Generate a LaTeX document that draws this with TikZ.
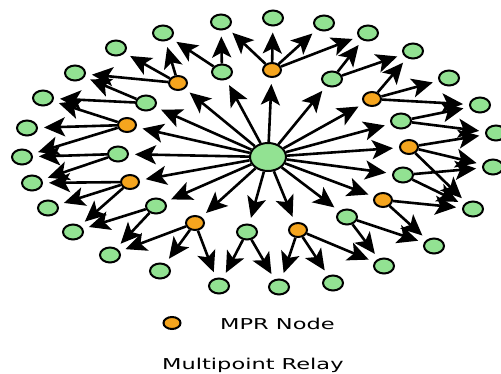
\documentclass[tikz,border=0pt]{standalone}
\usepackage{fontspec}
\newfontfamily\legendfont[FakeStretch=1.5]{DejaVu Sans}
\usetikzlibrary{shapes.geometric,arrows.meta,backgrounds}
\definecolor{ngreen}{RGB}{146,226,146}
\definecolor{norange}{RGB}{245,165,30}
\begin{document}
\begin{tikzpicture}[x=1pt,y=-1pt,
  gnode/.style={ellipse,draw=black,line width=2pt,fill=ngreen,minimum width=20pt,minimum height=15pt,inner sep=0pt},
  onode/.style={gnode,fill=norange,minimum width=18pt,minimum height=14pt},
  cnode/.style={gnode,minimum width=36pt,minimum height=28pt},
  link/.style={line width=2.6pt,-{Stealth[length=21pt,width=19pt,inset=5pt]},shorten >=6pt},
  lbl/.style={font=\legendfont\fontsize{15}{18}\selectfont,inner sep=0pt}
]
\useasboundingbox (0,0) rectangle (501,373);
% center
\node[cnode] (C) at (268,157) {};
% MPR nodes
\node[onode] (M1) at (272,70) {};
\node[onode] (M2) at (178,83) {};
\node[onode] (M3) at (127,125) {};
\node[onode] (M4) at (130,182) {};
\node[onode] (M5) at (195,223) {};
\node[onode] (M6) at (298,230) {};
\node[onode] (M7) at (383,200) {};
\node[onode] (M8) at (409,147) {};
\node[onode] (M9) at (372,99) {};
% inner neighbours
\node[gnode] (N1) at (222,72) {};
\node[gnode] (N2) at (146,103) {};
\node[gnode] (N3) at (118,154) {};
\node[gnode] (N4) at (156,206) {};
\node[gnode] (N5) at (247,232) {};
\node[gnode] (N6) at (347,217) {};
\node[gnode] (N7) at (403,175) {};
\node[gnode] (N8) at (401,121) {};
\node[gnode] (N9) at (332,79) {};
% outer ring
\node[gnode] (T1) at (273,18) {};
\node[gnode] (T2) at (324,23) {};
\node[gnode] (T3) at (368,33) {};
\node[gnode] (T4) at (413,51) {};
\node[gnode] (T5) at (449,78) {};
\node[gnode] (T6) at (480,105) {};
\node[gnode] (T7) at (496,133) {};
\node[gnode] (T8) at (493,167) {};
\node[gnode] (T9) at (473,209) {};
\node[gnode] (T10) at (434,246) {};
\node[gnode] (T11) at (384,266) {};
\node[gnode] (T12) at (333,283) {};
\node[gnode] (T13) at (279,287) {};
\node[gnode] (T14) at (219,286) {};
\node[gnode] (T15) at (160,271) {};
\node[gnode] (T16) at (110,255) {};
\node[gnode] (T17) at (73,232) {};
\node[gnode] (T18) at (48,208) {};
\node[gnode] (T19) at (32,183) {};
\node[gnode] (T20) at (22,157) {};
\node[gnode] (T21) at (27,128) {};
\node[gnode] (T22) at (43,98) {};
\node[gnode] (T23) at (75,73) {};
\node[gnode] (T24) at (116,48) {};
\node[gnode] (T25) at (163,33) {};
\node[gnode] (T26) at (221,22) {};
% legend
\node[onode,minimum width=17pt,minimum height=12pt] (leg) at (172,323) {};
\node[lbl,anchor=base west] (mprtext) at (220,329) {MPR Node};
\node[lbl,anchor=base west] (title) at (162,369) {Multipoint Relay};
\begin{pgfonlayer}{background}
\fill[white] (0,0) rectangle (501,373);
\foreach \a/\b in {C/M1,C/M2,C/M3,C/M4,C/M5,C/M6,C/M7,C/M8,C/M9,
  C/N1,C/N2,C/N3,C/N4,C/N5,C/N6,C/N7,C/N8,C/N9,
  M1/T26,M1/T1,M1/T2,M1/T3,
  N1/T26,N1/T25,
  M2/T25,M2/T24,M2/T23,
  N2/T23,N2/T22,
  M3/T22,M3/T21,M3/T20,
  N3/T20,N3/T19,
  M4/T19,M4/T18,M4/T17,
  N4/T17,N4/T16,
  M5/T16,M5/T15,M5/T14,
  N5/T14,N5/T13,
  M6/T13,M6/T12,M6/T11,
  N6/T11,N6/T10,
  M7/T10,M7/T9,
  N7/T9,N7/T8,
  M8/T9,M8/T8,M8/T7,
  N8/T7,N8/T6,
  M9/T6,M9/T5,M9/T4,
  N9/T4,N9/T3}
  \draw[link] (\a) -- (\b);
\end{pgfonlayer}
\end{tikzpicture}
\end{document}
